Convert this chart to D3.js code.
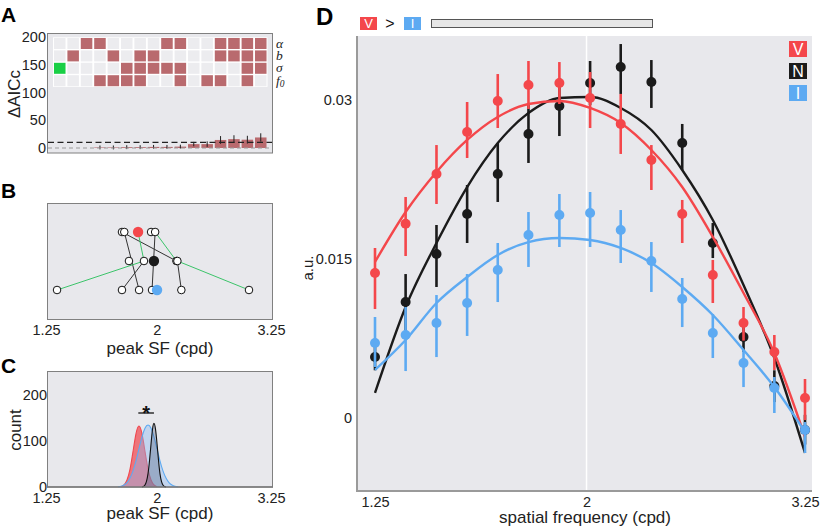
<!DOCTYPE html>
<html><head><meta charset="utf-8">
<script src="https://cdn.jsdelivr.net/npm/d3@7"></script>
<style>
body{margin:0;background:#fff}
svg{font-family:"Liberation Sans",Arial,Helvetica,sans-serif}
</style>
</head><body>
<svg id="chart" width="820" height="528"></svg>
<script>
// ---------------- DATA ----------------
// Panel A: model comparison grid
const modelIds = [1,2,3,4,5,6,7,8,9,10,11,12,13,14,15,16];
const paramNames = ["alpha","b","sigma","f0"];
const alphaFree = [3,4,9,10,13,14,15,16];
const bFree = [2,5,7,8,13,14,15,16];
const sigmaFree = [6,7,8,9,10,15,16];
const f0Free = [4,5,6,7,10,12,13,15];
const bestModel = {param:"sigma", id:1};
const deltaAICc = [0,0,0,1,1,1.5,1.5,2,2,2.5,7,7,14.5,16,15,19];
const deltaAICcErr = [0,0,0,3.5,3.5,3.5,3.5,3.5,3.5,3.5,4,5,7,7,7,7.5];
const aTicks = [0,50,100,150,200];
const aThresholds = [0,10];

// Panel B: peak SF of models (levels 0,1,2)
const bNodes = [
  {id:"t1",level:0,sf:1.726,kind:"open"},
  {id:"t2",level:0,sf:1.743,kind:"open"},
  {id:"tV",level:0,sf:1.848,kind:"V"},
  {id:"t3",level:0,sf:1.953,kind:"open"},
  {id:"t4",level:0,sf:1.987,kind:"open"},
  {id:"m1",level:1,sf:1.778,kind:"open"},
  {id:"m2",level:1,sf:1.895,kind:"open"},
  {id:"mN",level:1,sf:1.977,kind:"N"},
  {id:"m3",level:1,sf:2.175,kind:"open"},
  {id:"m4",level:1,sf:2.184,kind:"open"},
  {id:"b1",level:2,sf:1.310,kind:"open"},
  {id:"b2",level:2,sf:1.726,kind:"open"},
  {id:"b3",level:2,sf:1.856,kind:"open"},
  {id:"b4",level:2,sf:1.961,kind:"open"},
  {id:"bI",level:2,sf:2.003,kind:"I"},
  {id:"b5",level:2,sf:2.221,kind:"open"},
  {id:"b6",level:2,sf:2.960,kind:"open"}
];
const bLinks = [
  {s:"t2",t:"b3",c:"k"},{s:"t1",t:"m3",c:"k"},{s:"t4",t:"b4",c:"k"},
  {s:"m2",t:"b2",c:"k"},{s:"m4",t:"b5",c:"k"},
  {s:"tV",t:"m2",c:"g"},{s:"t4",t:"m3",c:"g"},
  {s:"m2",t:"b1",c:"g"},{s:"m4",t:"b6",c:"g"}
];
const sfTicks = [1.25,2,3.25];
const sfTickLabels = ["1.25","2","3.25"];

// Panel C: bootstrap distributions of peak SF
const cRedSF = [1.719,1.741,1.763,1.786,1.809,1.832,1.855,1.879,1.903,1.928,1.953,1.977,2.003];
const cRedCount = [0.7,3.4,13,36,77,120,139,120,77,36,13,3.4,0.7];
const cBlueSF = [1.697,1.719,1.741,1.763,1.786,1.809,1.832,1.855,1.879,1.903,1.928,1.953,1.977,2.003,2.028,2.054,2.081,2.107,2.134,2.162,2.19];
const cBlueCount = [0.5,1.5,3.9,9,18.5,34,56,83,110,130,137,130,110,83,56,34,18.5,9,3.9,1.5,0.5];
const cBlackSF = [1.879,1.891,1.903,1.915,1.928,1.940,1.953,1.965,1.977,1.990,2.003,2.016,2.028,2.041,2.054,2.067,2.081];
const cBlackCount = [0.2,0.9,3.5,10.8,27,56,95,129,143,129,95,56,27,10.8,3.5,0.9,0.2];
const cTicks = [0,100,200];
const cSig = {from:1.850, to:1.977, label:"*"};

// Panel D: tuning curves
const sfD = [1.25,1.338,1.433,1.534,1.642,1.758,1.883,2.016,2.158,2.31,2.474,2.648,2.835,3.036,3.25];
const redMean = [0.01368,0.01833,0.02302,0.02698,0.0299,0.03142,0.0316,0.03019,0.02774,0.02434,0.01925,0.01349,0.00896,0.00623,0.00189];
const redLo = [0.01028,0.01528,0.02019,0.02453,0.02736,0.02915,0.02962,0.02736,0.02491,0.02151,0.01651,0.01085,0.0073,0.00453,-0.00019];
const redHi = [0.01604,0.02085,0.02575,0.02981,0.03245,0.03368,0.03358,0.03264,0.03057,0.02575,0.02057,0.01491,0.01047,0.00783,0.00368];
const blackMean = [0.00575,0.01094,0.01547,0.01925,0.02302,0.02679,0.02943,0.0316,0.03311,0.0317,0.02594,0.01651,0.00764,0.00302,-0.00113];
const blackLo = [0.0045,0.0083,0.01236,0.01651,0.02038,0.02406,0.0266,0.02953,0.03057,0.02925,0.0234,0.01509,0.00623,0.0015,-0.0025];
const blackHi = [0.007,0.01358,0.01821,0.02198,0.02594,0.02962,0.03208,0.03368,0.03528,0.03377,0.02774,0.0184,0.00906,0.0045,0.0003];
const blueMean = [0.00708,0.00783,0.00896,0.01085,0.01396,0.01726,0.01915,0.01934,0.01774,0.01481,0.01123,0.00802,0.00519,0.00283,-0.00113];
const blueLo = [0.00481,0.00443,0.00575,0.00774,0.01094,0.01425,0.01613,0.01613,0.01462,0.01189,0.00858,0.00566,0.00292,0.00047,-0.0033];
const blueHi = [0.00953,0.01047,0.0116,0.01358,0.01651,0.01943,0.02113,0.02132,0.01962,0.0166,0.01321,0.00981,0.00642,0.00387,-0.00038];
const redFit = [0.01472,0.01943,0.02321,0.02623,0.0284,0.02962,0.02991,0.02925,0.02783,0.02528,0.02179,0.01708,0.01179,0.00613,-0.00179];
const blackFit = [0.00236,0.01047,0.01651,0.02179,0.02594,0.02877,0.03019,0.03028,0.02925,0.02717,0.0234,0.01868,0.01255,0.00566,-0.0033];
const blueFit = [0.00453,0.00736,0.01085,0.0133,0.01538,0.0166,0.01698,0.01679,0.01604,0.01462,0.01236,0.00972,0.00642,0.00292,-0.00132];
const dYTicks = [0,0.015,0.03];
const dYTickLabels = ["0","0.015","0.03"];
const legendKeys = ["V","N","I"];

// ---------------- STYLE ----------------
const BG = "#E8E8EC";
const RED = "#F4474B", BLACK = "#1b1b1b", BLUE = "#5DAAF2", GREEN = "#3CC46A";
const svg = d3.select("#chart");

function panelLabel(t, x, y, size){
  svg.append("text").attr("x",x).attr("y",y).attr("font-size",size).attr("font-weight","bold")
    .attr("fill","#000").text(t);
}

// ---------------- PANEL A ----------------
panelLabel("A", 1, 22, 21);
const xA = d3.scaleBand().domain(modelIds).range([53.06,267.46]).paddingInner(0.14).paddingOuter(0.07);
const rowA = d3.scaleBand().domain(paramNames).range([37.3,86.9]).paddingInner(0.113).paddingOuter(0.056);
const yA = d3.scaleLinear().domain([-9,207.2]).range([153,33]);
const gA = svg.append("g");
gA.append("rect").attr("x",47.5).attr("y",33.5).attr("width",225).attr("height",119.5)
  .attr("fill",BG).attr("stroke","#808080").attr("stroke-width",1);
gA.append("rect").attr("x",53).attr("y",37.3).attr("width",214.5).attr("height",49.6).attr("fill","#fff");
const freeSets = {alpha:alphaFree, b:bFree, sigma:sigmaFree, f0:f0Free};
const cells = [];
paramNames.forEach(p => modelIds.forEach(id => cells.push({p, id,
  on: freeSets[p].includes(id), best: (p===bestModel.param && id===bestModel.id)})));
gA.selectAll("rect.cell").data(cells).join("rect").attr("class","cell")
  .attr("x",d=>xA(d.id)).attr("y",d=>rowA(d.p))
  .attr("width",xA.bandwidth()).attr("height",rowA.bandwidth())
  .attr("fill",d=> d.best ? "#19CF45" : (d.on ? "#B96A6E" : "#ECECEF"));
// row labels
const rowLabelG = gA.append("g").attr("font-family","'Liberation Serif','DejaVu Serif',serif")
  .attr("font-style","italic").attr("font-size",13.5).attr("fill","#222");
const rowLabelText = {alpha:"α", b:"b", sigma:"σ"};
paramNames.forEach(p=>{
  const t = rowLabelG.append("text").attr("x",276).attr("y",rowA(p)+rowA.bandwidth()/2).attr("dy","0.3em");
  if(p==="f0"){ t.text("f"); t.append("tspan").attr("font-size",9.5).attr("dy","0.2em").text("0"); }
  else t.text(rowLabelText[p]);
});
// bars
gA.selectAll("rect.bar").data(modelIds.map((id,i)=>({id,v:deltaAICc[i],e:deltaAICcErr[i]})).filter(d=>d.v>0))
  .join("rect").attr("class","bar")
  .attr("x",d=>xA(d.id)).attr("width",xA.bandwidth())
  .attr("y",d=>yA(d.v)).attr("height",d=>yA(0)-yA(d.v)).attr("fill","#B96A6E");
gA.selectAll("line.err").data(modelIds.map((id,i)=>({id,v:deltaAICc[i],e:deltaAICcErr[i]})).filter(d=>d.e>0))
  .join("line").attr("class","err")
  .attr("x1",d=>xA(d.id)+xA.bandwidth()/2).attr("x2",d=>xA(d.id)+xA.bandwidth()/2)
  .attr("y1",d=>yA(d.v-d.e)).attr("y2",d=>yA(d.v+d.e)).attr("stroke","#222").attr("stroke-width",1);
gA.append("line").attr("x1",48).attr("x2",272).attr("y1",yA(aThresholds[0])).attr("y2",yA(aThresholds[0]))
  .attr("stroke","#9a9a9a").attr("stroke-width",1).attr("stroke-dasharray","4,3");
gA.append("line").attr("x1",48).attr("x2",272).attr("y1",yA(aThresholds[1])).attr("y2",yA(aThresholds[1]))
  .attr("stroke","#222").attr("stroke-width",1.2).attr("stroke-dasharray","6,3.5");
const axA = gA.append("g").attr("transform","translate(47,0)")
  .call(d3.axisLeft(yA).tickValues(aTicks).tickSize(0).tickPadding(1));
axA.select(".domain").remove();
axA.selectAll("text").attr("font-size",14.5).attr("fill","#222").attr("font-family","'Liberation Sans',Arial,sans-serif");
gA.append("text").attr("transform","translate(20,94) rotate(-90)").attr("text-anchor","middle")
  .attr("font-size",17).attr("fill","#222").text("ΔAICc");

// ---------------- PANEL B ----------------
panelLabel("B", 1, 198, 21);
const xB = d3.scaleLog().domain([1.25,3.25]).range([46,271]);
const yB = d3.scalePoint().domain([0,1,2]).range([232,290]);
const gB = svg.append("g");
gB.append("rect").attr("x",47.5).attr("y",203.5).attr("width",225).attr("height",116)
  .attr("fill",BG).attr("stroke","#808080").attr("stroke-width",1);
const nodeById = new Map(bNodes.map(n=>[n.id,n]));
gB.selectAll("line.lnk").data(bLinks).join("line").attr("class","lnk")
  .attr("x1",d=>xB(nodeById.get(d.s).sf)).attr("y1",d=>yB(nodeById.get(d.s).level))
  .attr("x2",d=>xB(nodeById.get(d.t).sf)).attr("y2",d=>yB(nodeById.get(d.t).level))
  .attr("stroke",d=>d.c==="g"?GREEN:"#333").attr("stroke-width",1);
gB.selectAll("circle.open").data(bNodes.filter(n=>n.kind==="open")).join("circle").attr("class","open")
  .attr("cx",d=>xB(d.sf)).attr("cy",d=>yB(d.level)).attr("r",3.8)
  .attr("fill","#fff").attr("stroke","#111").attr("stroke-width",1);
const kindColor = {V:RED, N:BLACK, I:BLUE};
gB.selectAll("circle.fill").data(bNodes.filter(n=>n.kind!=="open")).join("circle").attr("class","fill")
  .attr("cx",d=>xB(d.sf)).attr("cy",d=>yB(d.level)).attr("r",5.2).attr("fill",d=>kindColor[d.kind]);
const axB = gB.append("g").attr("transform","translate(0,320)")
  .call(d3.axisBottom(xB).tickValues(sfTicks).tickFormat((d,i)=>sfTickLabels[i]).tickSize(0).tickPadding(4.5));
axB.select(".domain").remove();
axB.selectAll("text").attr("font-size",14.5).attr("fill","#222").attr("font-family","'Liberation Sans',Arial,sans-serif");
gB.append("text").attr("x",160).attr("y",354).attr("text-anchor","middle").attr("font-size",17).attr("fill","#222").text("peak SF (cpd)");

// ---------------- PANEL C ----------------
panelLabel("C", 1, 373, 21);
const xC = d3.scaleLog().domain([1.25,3.25]).range([46,271]);
const yC = d3.scaleLinear().domain([0,252.2]).range([487,371]);
const gC = svg.append("g");
gC.append("rect").attr("x",47.5).attr("y",371.5).attr("width",225).attr("height",115.5)
  .attr("fill",BG).attr("stroke","#808080").attr("stroke-width",1);
const areaC = d3.area().x(d=>xC(d[0])).y0(yC(0)).y1(d=>yC(d[1])).curve(d3.curveBasis);
const lineC = d3.line().x(d=>xC(d[0])).y(d=>yC(d[1])).curve(d3.curveBasis);
const distsC = [
  {sf:cRedSF, c:cRedCount, fill:"#F0464E", fo:0.72, stroke:"#F0464E"},
  {sf:cBlueSF, c:cBlueCount, fill:"#8CB8F0", fo:0.42, stroke:BLUE},
  {sf:cBlackSF, c:cBlackCount, fill:"#4A5C7C", fo:0.33, stroke:"#111"}
];
distsC.forEach(d=>{
  const pts = d.sf.map((s,i)=>[s,d.c[i]]);
  gC.append("path").attr("d",areaC(pts)).attr("fill",d.fill).attr("fill-opacity",d.fo);
  gC.append("path").attr("d",lineC(pts)).attr("fill","none").attr("stroke",d.stroke).attr("stroke-width",1.1);
});
gC.append("line").attr("x1",xC(cSig.from)).attr("x2",xC(cSig.to)).attr("y1",413).attr("y2",413)
  .attr("stroke","#111").attr("stroke-width",1.3);
gC.append("text").attr("x",(xC(cSig.from)+xC(cSig.to))/2).attr("y",420).attr("text-anchor","middle")
  .attr("font-size",20).attr("font-weight","bold").attr("fill","#111").text(cSig.label);
gC.append("line").attr("x1",47).attr("x2",273).attr("y1",487).attr("y2",487).attr("stroke","#777").attr("stroke-width",1.3);
const axCy = gC.append("g").attr("transform","translate(48,0)")
  .call(d3.axisLeft(yC).tickValues(cTicks).tickSize(0).tickPadding(1));
axCy.select(".domain").remove();
axCy.selectAll("text").attr("font-size",14.5).attr("fill","#222").attr("font-family","'Liberation Sans',Arial,sans-serif");
const axCx = gC.append("g").attr("transform","translate(0,488)")
  .call(d3.axisBottom(xC).tickValues(sfTicks).tickFormat((d,i)=>sfTickLabels[i]).tickSize(0).tickPadding(4.5));
axCx.select(".domain").remove();
axCx.selectAll("text").attr("font-size",14.5).attr("fill","#222").attr("font-family","'Liberation Sans',Arial,sans-serif");
gC.append("text").attr("x",160).attr("y",519).attr("text-anchor","middle").attr("font-size",17).attr("fill","#222").text("peak SF (cpd)");
gC.append("text").attr("transform","translate(21,430) rotate(-90)").attr("text-anchor","middle")
  .attr("font-size",17).attr("fill","#222").text("count");

// ---------------- PANEL D ----------------
panelLabel("D", 316, 25, 24);
const xD = d3.scaleLog().domain([1.25,3.25]).range([375,805]);
const yD = d3.scaleLinear().domain([0,0.03]).range([418,100]);
const gD = svg.append("g");
gD.append("rect").attr("x",357).attr("y",36).attr("width",455).attr("height",455).attr("fill",BG);
gD.append("line").attr("x1",xD(2)).attr("x2",xD(2)).attr("y1",36).attr("y2",491).attr("stroke","#fff").attr("stroke-width",1.5);
gD.append("line").attr("x1",357).attr("x2",357).attr("y1",36).attr("y2",492).attr("stroke","#9a9a9a").attr("stroke-width",2);
gD.append("line").attr("x1",356).attr("x2",812).attr("y1",491).attr("y2",491).attr("stroke","#9a9a9a").attr("stroke-width",2);
const axDy = gD.append("g").attr("transform","translate(357,0)")
  .call(d3.axisLeft(yD).tickValues(dYTicks).tickFormat((d,i)=>dYTickLabels[i]).tickSize(0).tickPadding(5));
axDy.select(".domain").remove();
axDy.selectAll("text").attr("font-size",14.5).attr("fill","#222").attr("font-family","'Liberation Sans',Arial,sans-serif");
const axDx = gD.append("g").attr("transform","translate(0,491)")
  .call(d3.axisBottom(xD).tickValues(sfTicks).tickFormat((d,i)=>sfTickLabels[i]).tickSize(0).tickPadding(6));
axDx.select(".domain").remove();
axDx.selectAll("text").attr("font-size",14.5).attr("fill","#222").attr("font-family","'Liberation Sans',Arial,sans-serif");
gD.append("text").attr("x",585).attr("y",523).attr("text-anchor","middle").attr("font-size",17).attr("fill","#222").text("spatial frequency (cpd)");
gD.append("text").attr("transform","translate(313,268) rotate(-90)").attr("text-anchor","middle")
  .attr("font-size",15).attr("fill","#222").text("a.u.");

const seriesD = [
  {key:"N", color:BLACK, mean:blackMean, lo:blackLo, hi:blackHi, fit:blackFit},
  {key:"V", color:RED, mean:redMean, lo:redLo, hi:redHi, fit:redFit},
  {key:"I", color:BLUE, mean:blueMean, lo:blueLo, hi:blueHi, fit:blueFit}
];
const lineD = d3.line().x(d=>xD(d[0])).y(d=>yD(d[1])).curve(d3.curveMonotoneX);
seriesD.forEach(s=>{
  const g = gD.append("g");
  g.append("path").attr("d",lineD(sfD.map((x,i)=>[x,s.fit[i]]))).attr("fill","none")
    .attr("stroke",s.color).attr("stroke-width",2.4);
  g.selectAll("line").data(sfD.map((x,i)=>({x,lo:s.lo[i],hi:s.hi[i]}))).join("line")
    .attr("x1",d=>xD(d.x)).attr("x2",d=>xD(d.x)).attr("y1",d=>yD(d.lo)).attr("y2",d=>yD(d.hi))
    .attr("stroke",s.color).attr("stroke-width",2.6);
  g.selectAll("circle").data(sfD.map((x,i)=>({x,m:s.mean[i]}))).join("circle")
    .attr("cx",d=>xD(d.x)).attr("cy",d=>yD(d.m)).attr("r",5).attr("fill",s.color);
});

// legends
const legColor = {V:RED, N:BLACK, I:BLUE};
const legR = gD.append("g");
legendKeys.forEach((k,i)=>{
  legR.append("rect").attr("x",789).attr("y",41+i*22).attr("width",18).attr("height",16).attr("fill",legColor[k]);
  legR.append("text").attr("x",798).attr("y",49+i*22).attr("dy","0.36em").attr("text-anchor","middle")
    .attr("font-size",16).attr("fill","#fff").text(k);
});
const legT = gD.append("g");
legT.append("rect").attr("x",360).attr("y",17).attr("width",17).attr("height",13).attr("fill",RED);
legT.append("text").attr("x",368.5).attr("y",23.5).attr("dy","0.36em").attr("text-anchor","middle").attr("font-size",13).attr("fill","#fff").text("V");
legT.append("text").attr("x",390).attr("y",23.5).attr("dy","0.36em").attr("text-anchor","middle").attr("font-size",16).attr("fill","#111").text(">");
legT.append("rect").attr("x",404).attr("y",17).attr("width",17).attr("height",13).attr("fill",BLUE);
legT.append("text").attr("x",412.5).attr("y",23.5).attr("dy","0.36em").attr("text-anchor","middle").attr("font-size",13).attr("fill","#fff").text("I");
legT.append("rect").attr("x",431.5).attr("y",19.5).attr("width",221).attr("height",8).attr("fill","#E6E6E6").attr("stroke","#555").attr("stroke-width",1);
</script>
</body></html>
